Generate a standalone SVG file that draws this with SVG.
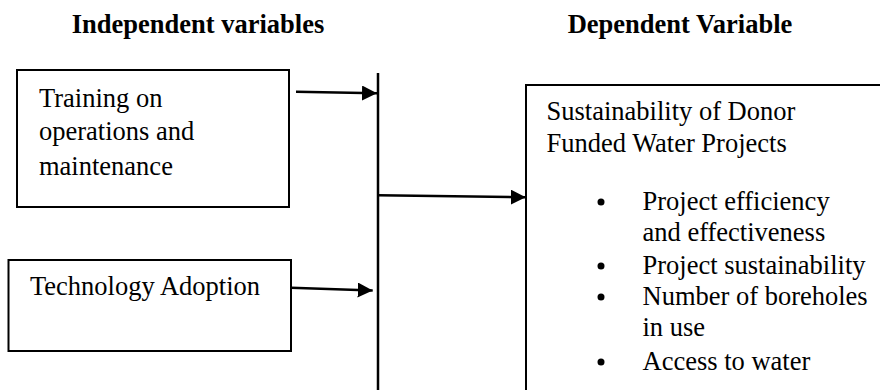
<svg xmlns="http://www.w3.org/2000/svg" width="880" height="390" viewBox="0 0 880 390">
<defs>
<style>
.hdr{font-family:"Liberation Serif","Times New Roman",serif;font-weight:bold;font-size:26.5px;fill:#000}
.txt{font-family:"Liberation Serif","Times New Roman",serif;font-size:26.5px;fill:#000}
.box{fill:#fff;stroke:#000;stroke-width:2}
.con{fill:none;stroke:#000;stroke-width:2.5}
</style>
<marker id="ah" viewBox="0 0 10 10" refX="10" refY="5" markerWidth="15" markerHeight="15" markerUnits="userSpaceOnUse" orient="auto">
<path d="M0,0 L10,5 L0,10 Z" fill="#000"/>
</marker>
</defs>
<rect width="880" height="390" fill="#fff"/>
<text class="hdr" x="198" y="33" text-anchor="middle">Independent variables</text>
<text class="hdr" x="680" y="33" text-anchor="middle">Dependent Variable</text>
<g id="training">
<rect class="box" x="17" y="70" width="272" height="137"/>
<text class="txt" x="39" y="107">Training on</text>
<text class="txt" x="39" y="140">operations and</text>
<text class="txt" x="39" y="175">maintenance</text>
</g>
<g id="technology">
<rect class="box" x="8.5" y="260" width="282.5" height="91"/>
<text class="txt" x="30" y="295">Technology Adoption</text>
</g>
<g id="sustainability">
<path class="box" d="M526,391 L526,85 L881,85"/>
<text class="txt" x="546.5" y="120">Sustainability of Donor</text>
<text class="txt" x="546.5" y="152">Funded Water Projects</text>
<g fill="#000">
<circle cx="601" cy="202" r="3.5"/>
<circle cx="601" cy="266" r="3.5"/>
<circle cx="601" cy="297" r="3.5"/>
<circle cx="601" cy="362" r="3.5"/>
</g>
<text class="txt" x="642.5" y="210">Project efficiency</text>
<text class="txt" x="642.5" y="241">and effectiveness</text>
<text class="txt" x="642.5" y="274">Project sustainability</text>
<text class="txt" x="642.5" y="304.5">Number of boreholes</text>
<text class="txt" x="642.5" y="336">in use</text>
<text class="txt" x="642.5" y="370">Access to water</text>
</g>
<g id="connectors">
<line class="con" x1="378" y1="73" x2="378" y2="391"/>
<line class="con" x1="296" y1="91.8" x2="377" y2="93.3" marker-end="url(#ah)"/>
<line class="con" x1="291" y1="287.8" x2="372.7" y2="290.5" marker-end="url(#ah)"/>
<line class="con" x1="378" y1="195.2" x2="525.7" y2="197.3" marker-end="url(#ah)"/>
</g>
</svg>
